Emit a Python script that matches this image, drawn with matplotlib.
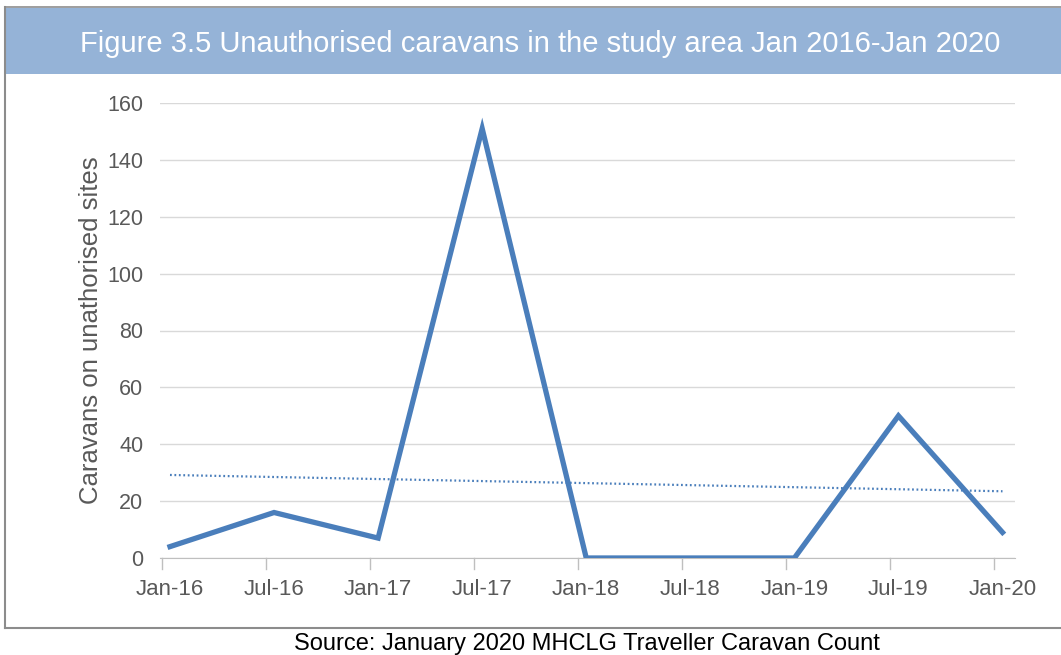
import numpy as np
import matplotlib.pyplot as plt
from matplotlib.patches import Rectangle
from matplotlib.lines import Line2D

# data
months = ['Jan-16', 'Jul-16', 'Jan-17', 'Jul-17', 'Jan-18', 'Jul-18', 'Jan-19', 'Jul-19', 'Jan-20']
caravans = [4, 16, 7, 151, 0, 0, 0, 50, 9]
yticks = [0, 20, 40, 60, 80, 100, 120, 140, 160]

W, H = 1061, 655
plt.rcParams['font.family'] = ['Liberation Sans', 'DejaVu Sans']

fig = plt.figure(figsize=(W / 100, H / 100), dpi=100)

# frame + title band
fig.patches.append(Rectangle((5 / W, 1 - 74 / H), 1 - 5 / W, 66 / H, transform=fig.transFigure,
                             facecolor='#95b3d7', edgecolor='none', zorder=0))
fig.lines.append(Line2D([5 / W, 5 / W], [1 - 7 / H, 1 - 628 / H], transform=fig.transFigure, color='#8c8c8c', lw=1.5))
fig.lines.append(Line2D([5 / W, 1], [1 - 628 / H, 1 - 628 / H], transform=fig.transFigure, color='#8c8c8c', lw=1.5))
fig.lines.append(Line2D([5 / W, 1], [1 - 7 / H, 1 - 7 / H], transform=fig.transFigure, color='#8c8c8c', lw=1.2))
fig.text(540 / W, 1 - 44 / H, 'Figure 3.5 Unauthorised caravans in the study area Jan 2016-Jan 2020',
         color='white', fontsize=21, ha='center', va='center')
fig.text(587 / W, 1 - 644 / H, 'Source: January 2020 MHCLG Traveller Caravan Count',
         color='black', fontsize=17, ha='center', va='center')

ax = fig.add_axes([160 / W, 97 / H, 855 / W, 455 / H])
x = np.arange(len(months))
ax.plot(x, caravans, color='#4a7ebb', lw=3.8, solid_joinstyle='miter', zorder=3)

# linear trendline
k, b = np.polyfit(x, caravans, 1)
ax.plot(x, k * x + b, color='#4a7ebb', lw=1.6, ls=(0, (0.8, 1.2)), zorder=2)

ax.set_xlim(-0.096, 8.12)
ax.set_ylim(0, 160)
ax.set_yticks(yticks)
ax.set_xticks(x)
ax.set_xticklabels(months)
ax.grid(axis='y', color='#d9d9d9', lw=1)
ax.set_axisbelow(True)
for s in ['top', 'right', 'left']:
    ax.spines[s].set_visible(False)
ax.spines['bottom'].set_color('#bfbfbf')
ax.tick_params(axis='y', length=0, pad=12, labelsize=15.5, labelcolor='#595959')
ax.tick_params(axis='x', length=0, pad=15, labelsize=16, labelcolor='#595959')
# small tick marks sitting just left of each point
for xi in x:
    ax.plot([xi - 0.077, xi - 0.077], [0, -4], color='#bfbfbf', lw=1, clip_on=False)
ax.set_ylabel('Caravans on unathorised sites', fontsize=18.5, color='#595959', labelpad=3)

fig.savefig('out.png', dpi=100)
